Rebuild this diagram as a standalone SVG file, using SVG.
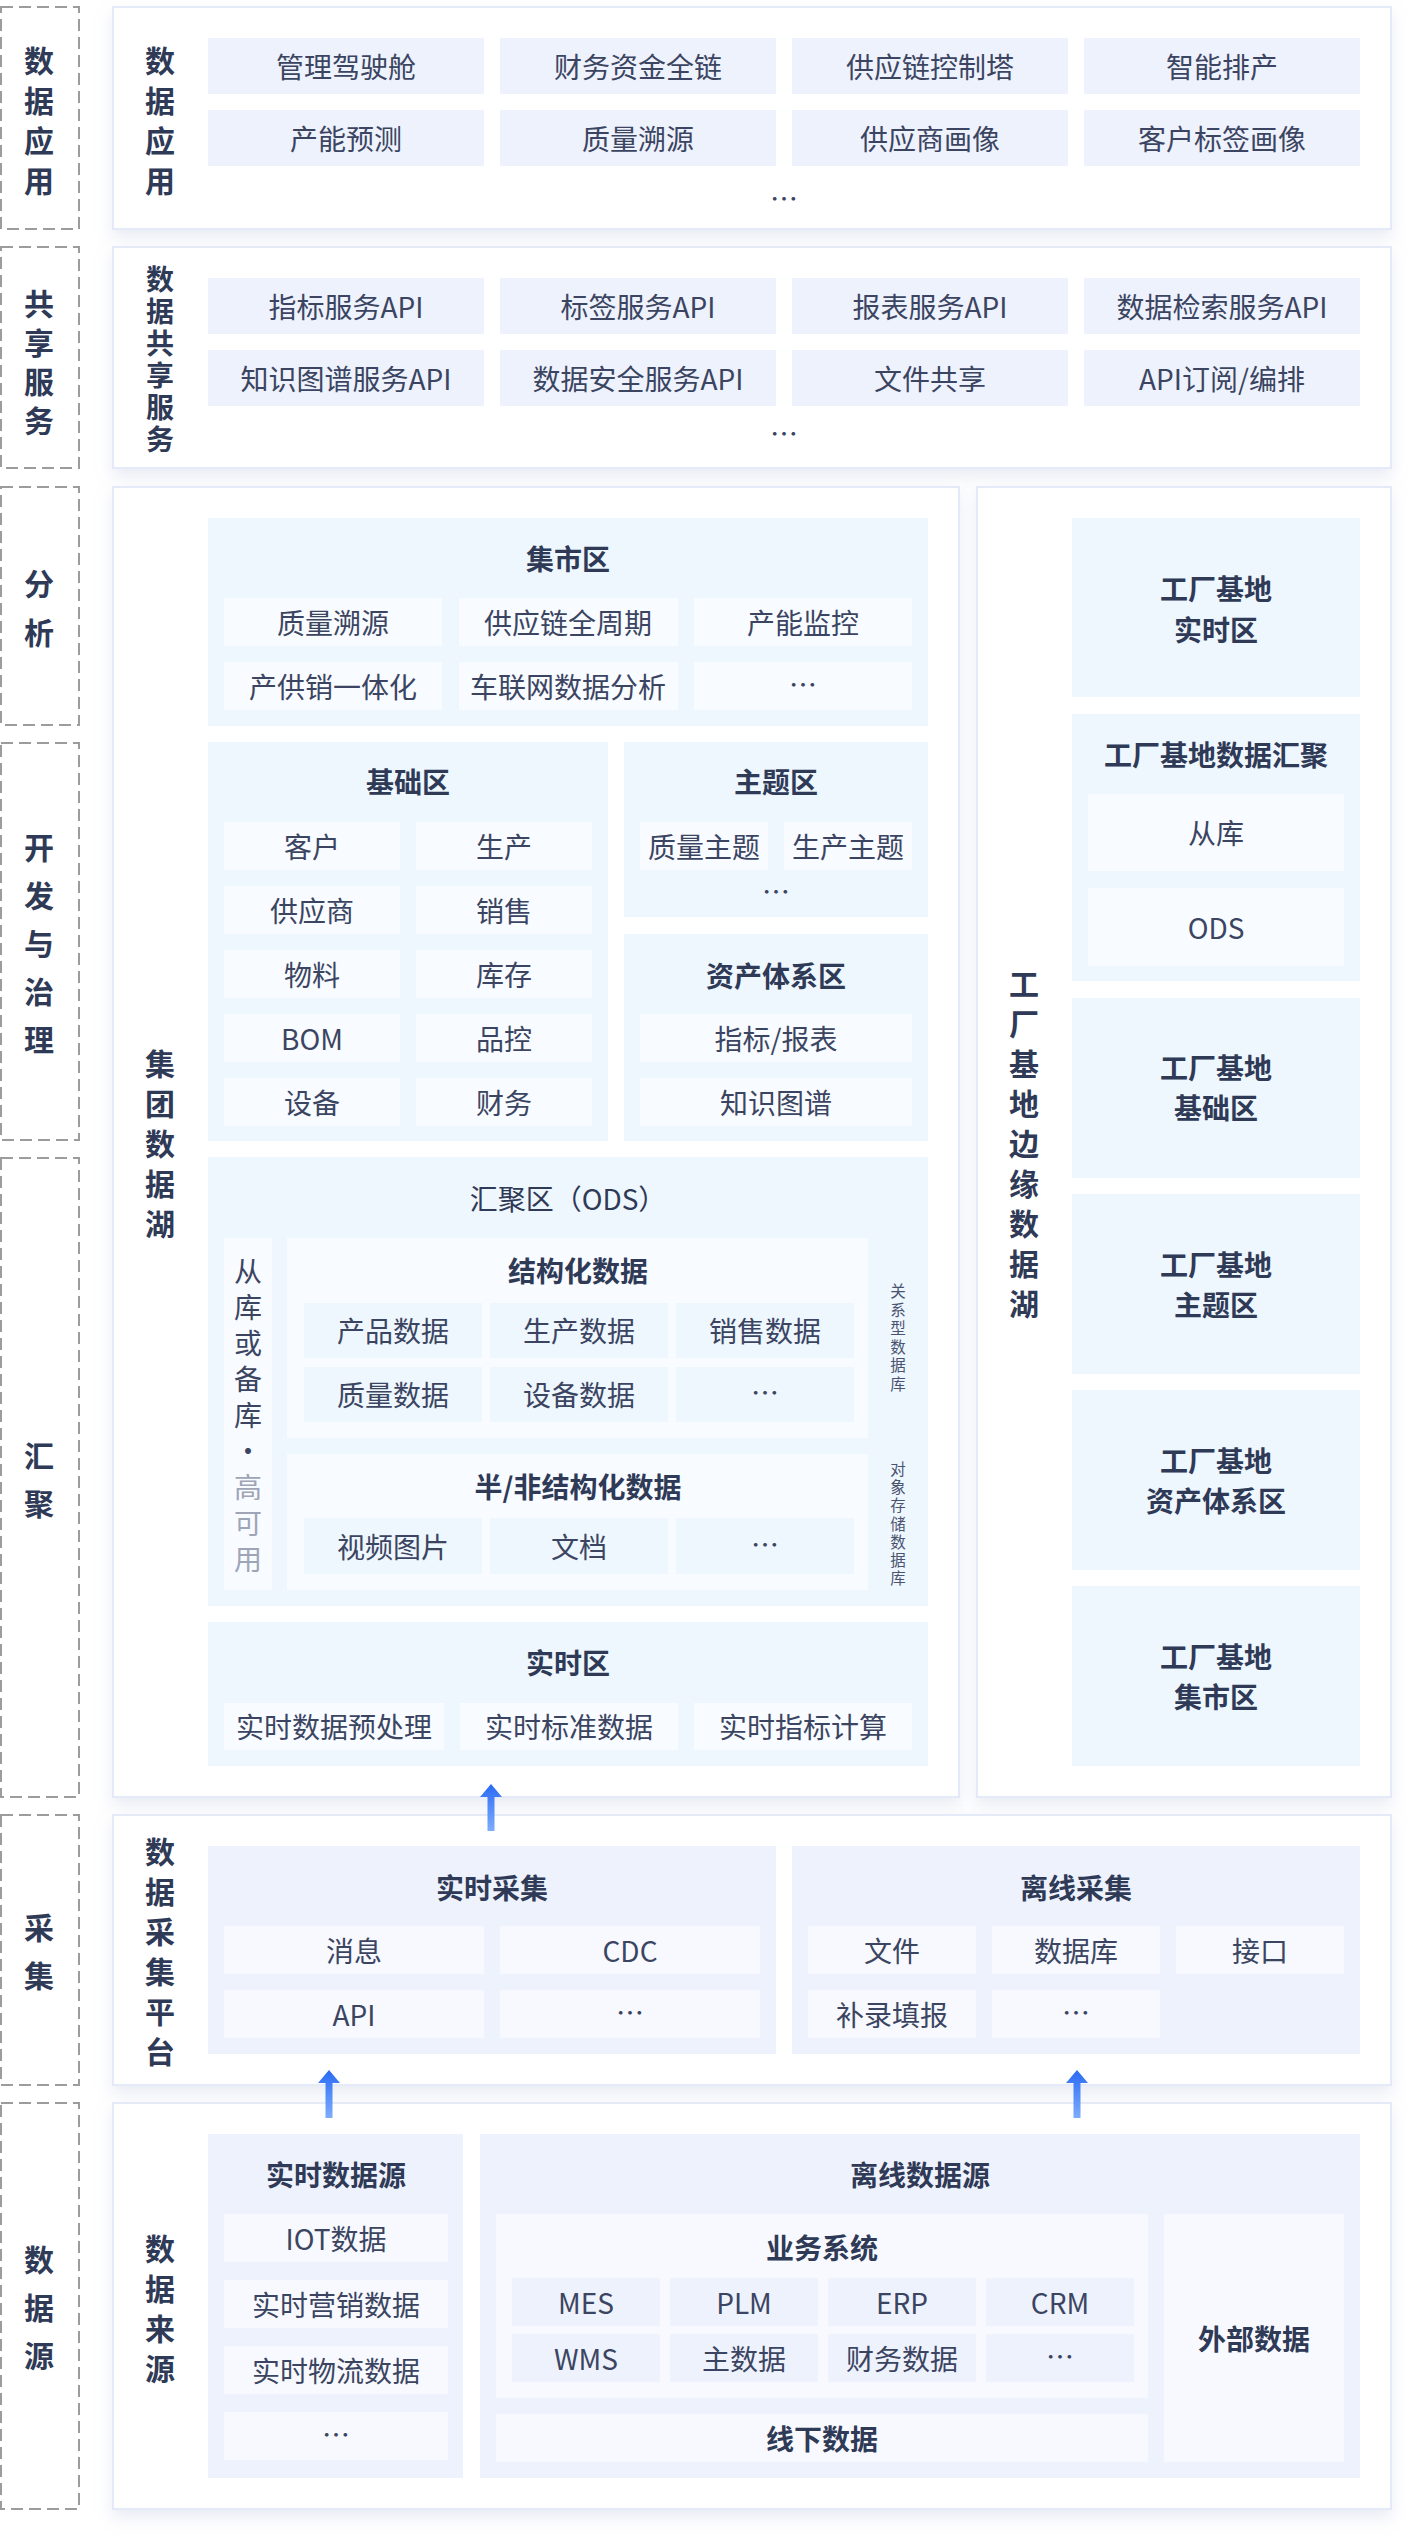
<svg xmlns="http://www.w3.org/2000/svg" width="1408" height="2536" viewBox="0 0 1408 2536">
<defs>
<style>
text{font-family:'Noto Sans CJK SC','Noto Sans',sans-serif;dominant-baseline:central;text-anchor:middle}
.lbl{font-size:30px;font-weight:700;fill:#2f3a57}
.lbl2{font-size:28px;font-weight:700;fill:#2f3a57}
.tt{font-size:28px;font-weight:700;fill:#2f3a57}
.tr{font-size:28px;font-weight:400;fill:#2f3a57}
.it{font-size:28px;fill:#3b4561}
.sm{font-size:15.5px;fill:#4a5470}
.gr{fill:#9ea5b6}
.dash{fill:none;stroke:#9c9c9c;stroke-width:2;stroke-dasharray:12 6}
.panel{fill:#ffffff;stroke:#e4eaf8;stroke-width:2;filter:url(#sh)}
.ia{fill:#eef2fd}
.zc{fill:#eef6fe}
.ic{fill:#f8fbff}
.ze{fill:#eef2fd}
.ie{fill:#f7f9fe}
.arrow{fill:url(#ag)}
</style>
<filter id="sh" x="-5%" y="-10%" width="110%" height="130%">
<feDropShadow dx="0" dy="8" stdDeviation="8" flood-color="#b6c0da" flood-opacity="0.3"/>
</filter>
<linearGradient id="ag" x1="0" y1="0" x2="0" y2="1">
<stop offset="0" stop-color="#2a6af5"/>
<stop offset="1" stop-color="#7eadfc"/>
</linearGradient>
</defs>
<rect width="1408" height="2536" fill="#ffffff"/>

<!-- layer labels -->
<g id="layer-app"><rect class="dash" x="1" y="7" width="78" height="222"/><text class="lbl"><tspan x="39" y="59">数</tspan><tspan x="39" y="99">据</tspan><tspan x="39" y="139">应</tspan><tspan x="39" y="179">用</tspan></text></g>
<g id="layer-share"><rect class="dash" x="1" y="247" width="78" height="221"/><text class="lbl"><tspan x="39" y="302">共</tspan><tspan x="39" y="341">享</tspan><tspan x="39" y="380">服</tspan><tspan x="39" y="419">务</tspan></text></g>
<g id="layer-analysis"><rect class="dash" x="1" y="487" width="78" height="238"/><text class="lbl"><tspan x="39" y="582">分</tspan><tspan x="39" y="631">析</tspan></text></g>
<g id="layer-dev"><rect class="dash" x="1" y="743" width="78" height="397"/><text class="lbl"><tspan x="39" y="846">开</tspan><tspan x="39" y="894">发</tspan><tspan x="39" y="942">与</tspan><tspan x="39" y="990">治</tspan><tspan x="39" y="1038">理</tspan></text></g>
<g id="layer-gather"><rect class="dash" x="1" y="1158" width="78" height="639"/><text class="lbl"><tspan x="39" y="1454">汇</tspan><tspan x="39" y="1502">聚</tspan></text></g>
<g id="layer-collect"><rect class="dash" x="1" y="1815" width="78" height="270"/><text class="lbl"><tspan x="39" y="1926">采</tspan><tspan x="39" y="1974">集</tspan></text></g>
<g id="layer-source"><rect class="dash" x="1" y="2103" width="78" height="406"/><text class="lbl"><tspan x="39" y="2258">数</tspan><tspan x="39" y="2306">据</tspan><tspan x="39" y="2354">源</tspan></text></g>

<!-- panel A: data application -->
<g id="panel-app">
<rect class="panel" x="113" y="7" width="1278" height="222"/>
<text class="lbl"><tspan x="160" y="59">数</tspan><tspan x="160" y="99">据</tspan><tspan x="160" y="139">应</tspan><tspan x="160" y="179">用</tspan></text>
<rect class="ia" x="208" y="38" width="276" height="56"/><text class="it" x="346" y="66">管理驾驶舱</text>
<rect class="ia" x="500" y="38" width="276" height="56"/><text class="it" x="638" y="66">财务资金全链</text>
<rect class="ia" x="792" y="38" width="276" height="56"/><text class="it" x="930" y="66">供应链控制塔</text>
<rect class="ia" x="1084" y="38" width="276" height="56"/><text class="it" x="1222" y="66">智能排产</text>
<rect class="ia" x="208" y="110" width="276" height="56"/><text class="it" x="346" y="138">产能预测</text>
<rect class="ia" x="500" y="110" width="276" height="56"/><text class="it" x="638" y="138">质量溯源</text>
<rect class="ia" x="792" y="110" width="276" height="56"/><text class="it" x="930" y="138">供应商画像</text>
<rect class="ia" x="1084" y="110" width="276" height="56"/><text class="it" x="1222" y="138">客户标签画像</text>
<text class="it" x="784" y="198">…</text>
</g>

<!-- panel B: data sharing -->
<g id="panel-share">
<rect class="panel" x="113" y="247" width="1278" height="221"/>
<text class="lbl2"><tspan x="160" y="278">数</tspan><tspan x="160" y="310">据</tspan><tspan x="160" y="342">共</tspan><tspan x="160" y="374">享</tspan><tspan x="160" y="406">服</tspan><tspan x="160" y="438">务</tspan></text>
<rect class="ia" x="208" y="278" width="276" height="56"/><text class="it" x="346" y="306">指标服务API</text>
<rect class="ia" x="500" y="278" width="276" height="56"/><text class="it" x="638" y="306">标签服务API</text>
<rect class="ia" x="792" y="278" width="276" height="56"/><text class="it" x="930" y="306">报表服务API</text>
<rect class="ia" x="1084" y="278" width="276" height="56"/><text class="it" x="1222" y="306">数据检索服务API</text>
<rect class="ia" x="208" y="350" width="276" height="56"/><text class="it" x="346" y="378">知识图谱服务API</text>
<rect class="ia" x="500" y="350" width="276" height="56"/><text class="it" x="638" y="378">数据安全服务API</text>
<rect class="ia" x="792" y="350" width="276" height="56"/><text class="it" x="930" y="378">文件共享</text>
<rect class="ia" x="1084" y="350" width="276" height="56"/><text class="it" x="1222" y="378">API订阅/编排</text>
<text class="it" x="784" y="433">…</text>
</g>

<!-- panel C: group data lake -->
<g id="panel-group-lake">
<rect class="panel" x="113" y="487" width="846" height="1310"/>
<text class="lbl"><tspan x="160" y="1062">集</tspan><tspan x="160" y="1102">团</tspan><tspan x="160" y="1142">数</tspan><tspan x="160" y="1182">据</tspan><tspan x="160" y="1222">湖</tspan></text>

<g id="zone-mart">
<rect class="zc" x="208" y="518" width="720" height="208"/>
<text class="tt" x="568" y="558">集市区</text>
<rect class="ic" x="224" y="598" width="218" height="48"/><text class="it" x="333" y="622">质量溯源</text>
<rect class="ic" x="459" y="598" width="219" height="48"/><text class="it" x="568" y="622">供应链全周期</text>
<rect class="ic" x="694" y="598" width="218" height="48"/><text class="it" x="803" y="622">产能监控</text>
<rect class="ic" x="224" y="662" width="218" height="48"/><text class="it" x="333" y="686">产供销一体化</text>
<rect class="ic" x="459" y="662" width="219" height="48"/><text class="it" x="568" y="686">车联网数据分析</text>
<rect class="ic" x="694" y="662" width="218" height="48"/><text class="it" x="803" y="684">…</text>
</g>

<g id="zone-base">
<rect class="zc" x="208" y="742" width="400" height="399"/>
<text class="tt" x="408" y="781">基础区</text>
<rect class="ic" x="224" y="822" width="176" height="48"/><text class="it" x="312" y="846">客户</text>
<rect class="ic" x="416" y="822" width="176" height="48"/><text class="it" x="504" y="846">生产</text>
<rect class="ic" x="224" y="886" width="176" height="48"/><text class="it" x="312" y="910">供应商</text>
<rect class="ic" x="416" y="886" width="176" height="48"/><text class="it" x="504" y="910">销售</text>
<rect class="ic" x="224" y="950" width="176" height="48"/><text class="it" x="312" y="974">物料</text>
<rect class="ic" x="416" y="950" width="176" height="48"/><text class="it" x="504" y="974">库存</text>
<rect class="ic" x="224" y="1014" width="176" height="48"/><text class="it" x="312" y="1038">BOM</text>
<rect class="ic" x="416" y="1014" width="176" height="48"/><text class="it" x="504" y="1038">品控</text>
<rect class="ic" x="224" y="1078" width="176" height="48"/><text class="it" x="312" y="1102">设备</text>
<rect class="ic" x="416" y="1078" width="176" height="48"/><text class="it" x="504" y="1102">财务</text>
</g>

<g id="zone-topic">
<rect class="zc" x="624" y="742" width="304" height="175"/>
<text class="tt" x="776" y="781">主题区</text>
<rect class="ic" x="640" y="822" width="128" height="48"/><text class="it" x="704" y="846">质量主题</text>
<rect class="ic" x="784" y="822" width="128" height="48"/><text class="it" x="848" y="846">生产主题</text>
<text class="it" x="776" y="891">…</text>
</g>

<g id="zone-asset">
<rect class="zc" x="624" y="934" width="304" height="207"/>
<text class="tt" x="776" y="975">资产体系区</text>
<rect class="ic" x="640" y="1014" width="272" height="48"/><text class="it" x="776" y="1038">指标/报表</text>
<rect class="ic" x="640" y="1078" width="272" height="48"/><text class="it" x="776" y="1102">知识图谱</text>
</g>

<g id="zone-ods">
<rect class="zc" x="208" y="1157" width="720" height="449"/>
<text class="tr" x="568" y="1198">汇聚区（ODS）</text>
<rect class="ic" x="224" y="1238" width="48" height="352"/>
<text class="it"><tspan x="248" y="1270">从</tspan><tspan x="248" y="1306">库</tspan><tspan x="248" y="1342">或</tspan><tspan x="248" y="1378">备</tspan><tspan x="248" y="1414">库</tspan><tspan x="248" y="1450">·</tspan><tspan class="gr" x="248" y="1486">高</tspan><tspan class="gr" x="248" y="1522">可</tspan><tspan class="gr" x="248" y="1558">用</tspan></text>
<rect class="ic" x="287" y="1238" width="581" height="200"/>
<text class="tt" x="578" y="1270">结构化数据</text>
<rect class="zc" x="304" y="1303" width="178" height="55"/><text class="it" x="393" y="1330">产品数据</text>
<rect class="zc" x="490" y="1303" width="178" height="55"/><text class="it" x="579" y="1330">生产数据</text>
<rect class="zc" x="676" y="1303" width="178" height="55"/><text class="it" x="765" y="1330">销售数据</text>
<rect class="zc" x="304" y="1367" width="178" height="55"/><text class="it" x="393" y="1394">质量数据</text>
<rect class="zc" x="490" y="1367" width="178" height="55"/><text class="it" x="579" y="1394">设备数据</text>
<rect class="zc" x="676" y="1367" width="178" height="55"/><text class="it" x="765" y="1392">…</text>
<rect class="ic" x="287" y="1454" width="581" height="136"/>
<text class="tt" x="578" y="1486">半/非结构化数据</text>
<rect class="zc" x="304" y="1518" width="178" height="56"/><text class="it" x="393" y="1546">视频图片</text>
<rect class="zc" x="490" y="1518" width="178" height="56"/><text class="it" x="579" y="1546">文档</text>
<rect class="zc" x="676" y="1518" width="178" height="56"/><text class="it" x="765" y="1544">…</text>
<text class="sm"><tspan x="898" y="1290">关</tspan><tspan x="898" y="1308.6">系</tspan><tspan x="898" y="1327.2">型</tspan><tspan x="898" y="1345.8">数</tspan><tspan x="898" y="1364.4">据</tspan><tspan x="898" y="1383">库</tspan></text>
<text class="sm"><tspan x="898" y="1468">对</tspan><tspan x="898" y="1486.2">象</tspan><tspan x="898" y="1504.4">存</tspan><tspan x="898" y="1522.6">储</tspan><tspan x="898" y="1540.8">数</tspan><tspan x="898" y="1559">据</tspan><tspan x="898" y="1577">库</tspan></text>
</g>

<g id="zone-realtime">
<rect class="zc" x="208" y="1622" width="720" height="144"/>
<text class="tt" x="568" y="1662">实时区</text>
<rect class="ic" x="224" y="1703" width="220" height="47"/><text class="it" x="334" y="1726">实时数据预处理</text>
<rect class="ic" x="460" y="1703" width="218" height="47"/><text class="it" x="569" y="1726">实时标准数据</text>
<rect class="ic" x="694" y="1703" width="218" height="47"/><text class="it" x="803" y="1726">实时指标计算</text>
</g>
</g>

<!-- panel D: factory edge lake -->
<g id="panel-factory-lake">
<rect class="panel" x="977" y="487" width="414" height="1310"/>
<text class="lbl"><tspan x="1024" y="982">工</tspan><tspan x="1024" y="1022">厂</tspan><tspan x="1024" y="1062">基</tspan><tspan x="1024" y="1102">地</tspan><tspan x="1024" y="1142">边</tspan><tspan x="1024" y="1182">缘</tspan><tspan x="1024" y="1222">数</tspan><tspan x="1024" y="1262">据</tspan><tspan x="1024" y="1302">湖</tspan></text>
<g id="f-realtime"><rect class="zc" x="1072" y="518" width="288" height="179"/><text class="tt"><tspan x="1216" y="588">工厂基地</tspan><tspan x="1216" y="629">实时区</tspan></text></g>
<g id="f-gather"><rect class="zc" x="1072" y="714" width="288" height="267"/><text class="tt" x="1216" y="754">工厂基地数据汇聚</text>
<rect class="ic" x="1088" y="794" width="256" height="77"/><text class="it" x="1216" y="832">从库</text>
<rect class="ic" x="1088" y="888" width="256" height="78"/><text class="it" x="1216" y="927">ODS</text></g>
<g id="f-base"><rect class="zc" x="1072" y="998" width="288" height="180"/><text class="tt"><tspan x="1216" y="1067">工厂基地</tspan><tspan x="1216" y="1107">基础区</tspan></text></g>
<g id="f-topic"><rect class="zc" x="1072" y="1194" width="288" height="180"/><text class="tt"><tspan x="1216" y="1264">工厂基地</tspan><tspan x="1216" y="1304">主题区</tspan></text></g>
<g id="f-asset"><rect class="zc" x="1072" y="1390" width="288" height="180"/><text class="tt"><tspan x="1216" y="1460">工厂基地</tspan><tspan x="1216" y="1500">资产体系区</tspan></text></g>
<g id="f-mart"><rect class="zc" x="1072" y="1586" width="288" height="180"/><text class="tt"><tspan x="1216" y="1656">工厂基地</tspan><tspan x="1216" y="1696">集市区</tspan></text></g>
</g>

<!-- panel E: collection platform -->
<g id="panel-collect">
<rect class="panel" x="113" y="1815" width="1278" height="270"/>
<text class="lbl"><tspan x="160" y="1850">数</tspan><tspan x="160" y="1890">据</tspan><tspan x="160" y="1930">采</tspan><tspan x="160" y="1970">集</tspan><tspan x="160" y="2010">平</tspan><tspan x="160" y="2050">台</tspan></text>
<g id="zone-rt-collect">
<rect class="ze" x="208" y="1846" width="568" height="208"/>
<text class="tt" x="492" y="1887">实时采集</text>
<rect class="ie" x="224" y="1926" width="260" height="48"/><text class="it" x="354" y="1950">消息</text>
<rect class="ie" x="500" y="1926" width="260" height="48"/><text class="it" x="630" y="1950">CDC</text>
<rect class="ie" x="224" y="1990" width="260" height="48"/><text class="it" x="354" y="2014">API</text>
<rect class="ie" x="500" y="1990" width="260" height="48"/><text class="it" x="630" y="2012">…</text>
</g>
<g id="zone-off-collect">
<rect class="ze" x="792" y="1846" width="568" height="208"/>
<text class="tt" x="1076" y="1887">离线采集</text>
<rect class="ie" x="808" y="1926" width="168" height="48"/><text class="it" x="892" y="1950">文件</text>
<rect class="ie" x="992" y="1926" width="168" height="48"/><text class="it" x="1076" y="1950">数据库</text>
<rect class="ie" x="1176" y="1926" width="168" height="48"/><text class="it" x="1260" y="1950">接口</text>
<rect class="ie" x="808" y="1990" width="168" height="48"/><text class="it" x="892" y="2014">补录填报</text>
<rect class="ie" x="992" y="1990" width="168" height="48"/><text class="it" x="1076" y="2012">…</text>
</g>
</g>

<!-- panel F: data sources -->
<g id="panel-source">
<rect class="panel" x="113" y="2103" width="1278" height="406"/>
<text class="lbl"><tspan x="160" y="2247">数</tspan><tspan x="160" y="2287">据</tspan><tspan x="160" y="2327">来</tspan><tspan x="160" y="2367">源</tspan></text>
<g id="zone-rt-source">
<rect class="ze" x="208" y="2134" width="255" height="344"/>
<text class="tt" x="336" y="2174">实时数据源</text>
<rect class="ie" x="224" y="2214" width="224" height="48"/><text class="it" x="336" y="2238">IOT数据</text>
<rect class="ie" x="224" y="2280" width="224" height="48"/><text class="it" x="336" y="2304">实时营销数据</text>
<rect class="ie" x="224" y="2346" width="224" height="48"/><text class="it" x="336" y="2370">实时物流数据</text>
<rect class="ie" x="224" y="2412" width="224" height="48"/><text class="it" x="336" y="2434">…</text>
</g>
<g id="zone-off-source">
<rect class="ze" x="480" y="2134" width="880" height="344"/>
<text class="tt" x="920" y="2174">离线数据源</text>
<rect class="ie" x="496" y="2214" width="652" height="184"/>
<text class="tt" x="822" y="2247">业务系统</text>
<rect class="ze" x="512" y="2278" width="148" height="48"/><text class="it" x="586" y="2302">MES</text>
<rect class="ze" x="670" y="2278" width="148" height="48"/><text class="it" x="744" y="2302">PLM</text>
<rect class="ze" x="828" y="2278" width="148" height="48"/><text class="it" x="902" y="2302">ERP</text>
<rect class="ze" x="986" y="2278" width="148" height="48"/><text class="it" x="1060" y="2302">CRM</text>
<rect class="ze" x="512" y="2334" width="148" height="48"/><text class="it" x="586" y="2358">WMS</text>
<rect class="ze" x="670" y="2334" width="148" height="48"/><text class="it" x="744" y="2358">主数据</text>
<rect class="ze" x="828" y="2334" width="148" height="48"/><text class="it" x="902" y="2358">财务数据</text>
<rect class="ze" x="986" y="2334" width="148" height="48"/><text class="it" x="1060" y="2356">…</text>
<rect class="ie" x="496" y="2414" width="652" height="48"/><text class="tt" x="822" y="2438">线下数据</text>
<rect class="ie" x="1164" y="2214" width="180" height="248"/><text class="tt" x="1254" y="2338">外部数据</text>
</g>
</g>

<!-- connectors -->
<g id="connectors">
<polygon class="arrow" points="491,1784 502,1797 494.5,1797 494.5,1831 487.5,1831 487.5,1797 480,1797"/>
<polygon class="arrow" points="329,2070 340,2083 332.5,2083 332.5,2118 325.5,2118 325.5,2083 318,2083"/>
<polygon class="arrow" points="1077,2070 1088,2083 1080.5,2083 1080.5,2118 1073.5,2118 1073.5,2083 1066,2083"/>
</g>
</svg>
